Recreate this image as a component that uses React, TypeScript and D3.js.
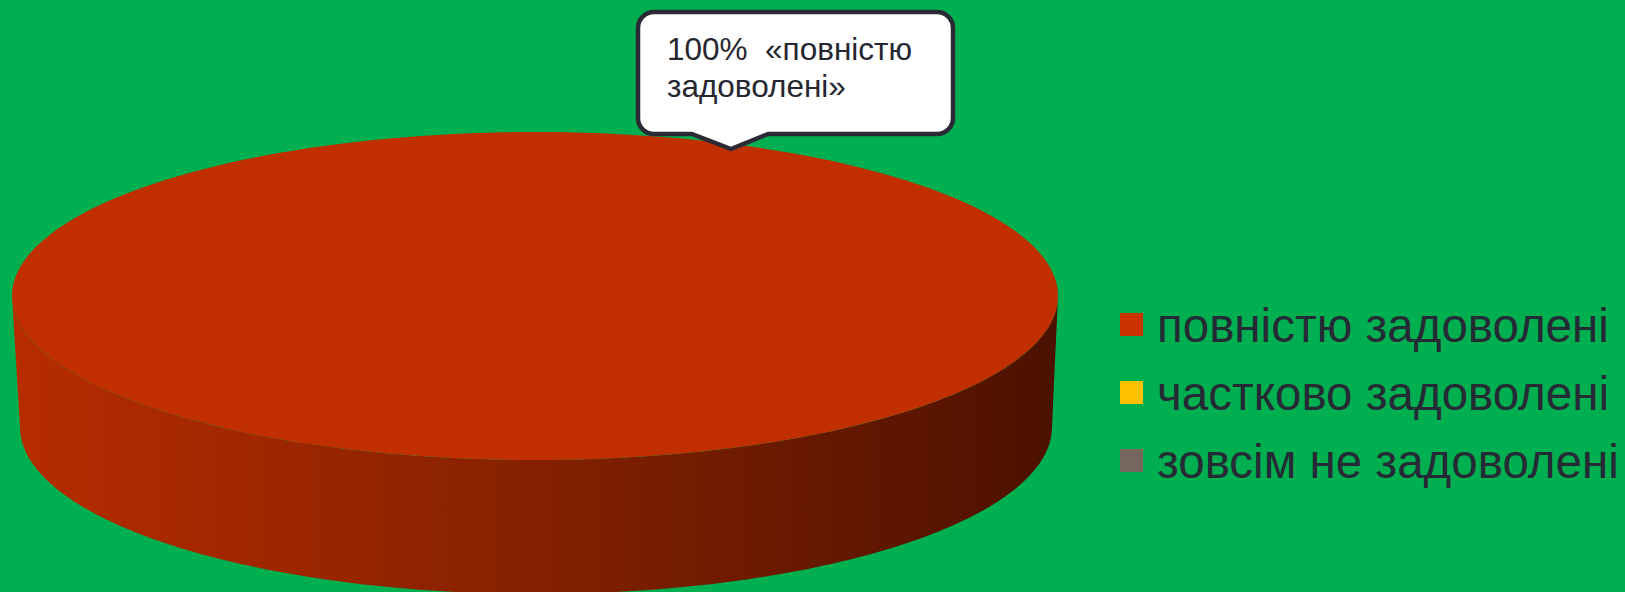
import React from "react";
import * as d3 from "d3";

const categories = ["повністю задоволені", "частково задоволені", "зовсім не задоволені"];
const values = [100, 0, 0];
const colors = ["#C12F00", "#FFC000", "#75665E"];
const legendColors = ["#CC3300", "#FFC000", "#75665E"];
const labelLines = ["100%  «повністю", "задоволені»"];

const W = 1625;
const H = 592;
const FONT = "'Liberation Sans', Arial, sans-serif";

export default function App() {
  const cx = 535, cy = 296, rx = 523, ry = 164;
  const cxB = 536, cyB = 427, rxB = 516, ryB = 167;

  const pie = d3.pie<number>().sort(null).startAngle(0).endAngle(2 * Math.PI);
  const arcs = pie(values);

  const topPt = (a: number): [number, number] => [cx + rx * Math.sin(a), cy - ry * Math.cos(a)];
  const botPt = (a: number): [number, number] => [cxB + rxB * Math.sin(a), cyB - ryB * Math.cos(a)];
  const line = d3.line();

  const sample = (a0: number, a1: number, n = 200) =>
    d3.range(n + 1).map((i) => a0 + ((a1 - a0) * i) / n);

  const tops: JSX.Element[] = [];
  const sides: JSX.Element[] = [];
  arcs.forEach((d, i) => {
    if (d.value <= 0) return;
    const full = d.endAngle - d.startAngle >= 2 * Math.PI - 1e-6;
    const angs = sample(d.startAngle, d.endAngle);
    const pts = angs.map(topPt);
    const p = full ? line(pts) + "Z" : line([[cx, cy], ...pts]) + "Z";
    tops.push(<path key={"t" + i} d={p} fill={colors[i]} />);
    const f0 = Math.max(d.startAngle, Math.PI / 2);
    const f1 = Math.min(d.endAngle, (3 * Math.PI) / 2);
    if (f1 > f0) {
      const fa = sample(f0, f1);
      const sp = [...fa.map(topPt), ...fa.slice().reverse().map(botPt)];
      sides.push(<path key={"s" + i} d={line(sp) + "Z"} fill={`url(#sideGrad${i})`} />);
    }
  });

  // callout box
  const bx0 = 638, by0 = 12, bx1 = 953, by1 = 134, r = 16;
  const px0 = 692, px1 = 768, tipX = 731, tipY = 149;
  const cp = d3.path();
  cp.moveTo(bx0 + r, by0);
  cp.lineTo(bx1 - r, by0);
  cp.arcTo(bx1, by0, bx1, by0 + r, r);
  cp.lineTo(bx1, by1 - r);
  cp.arcTo(bx1, by1, bx1 - r, by1, r);
  cp.lineTo(px1, by1);
  cp.lineTo(tipX, tipY);
  cp.lineTo(px0, by1);
  cp.lineTo(bx0 + r, by1);
  cp.arcTo(bx0, by1, bx0, by1 - r, r);
  cp.lineTo(bx0, by0 + r);
  cp.arcTo(bx0, by0, bx0 + r, by0, r);
  cp.closePath();

  return (
    <svg width={W} height={H} style={{ position: "absolute", left: 0, top: 0, display: "block" }}>
      <defs>
        <linearGradient id="sideGrad0" x1={cx - rx} x2={cx + rx} y1={0} y2={0} gradientUnits="userSpaceOnUse">
          <stop offset="0" stopColor="#B72C00" />
          <stop offset="0.5" stopColor="#842100" />
          <stop offset="1" stopColor="#4C1100" />
        </linearGradient>
      </defs>
      <rect x={0} y={0} width={W} height={H} fill="#00B050" />
      {sides}
      {tops}
      <path d={cp.toString()} fill="#FFFFFF" stroke="#2B2B35" strokeWidth={4.5} strokeLinejoin="round" />
      {labelLines.map((t, i) => (
        <text key={t} x={667} y={60 + i * 37} fontFamily={FONT} fontSize={31.5} fill="#262630" style={{ whiteSpace: "pre" }}>
          {t}
        </text>
      ))}
      {categories.map((c, i) => (
        <g key={c}>
          <rect x={1120} y={313 + i * 68} width={23} height={23} fill={legendColors[i]} />
          <text x={1157} y={342 + i * 68} fontFamily={FONT} fontSize={47.5} fill="#262A35">
            {c}
          </text>
        </g>
      ))}
    </svg>
  );
}
